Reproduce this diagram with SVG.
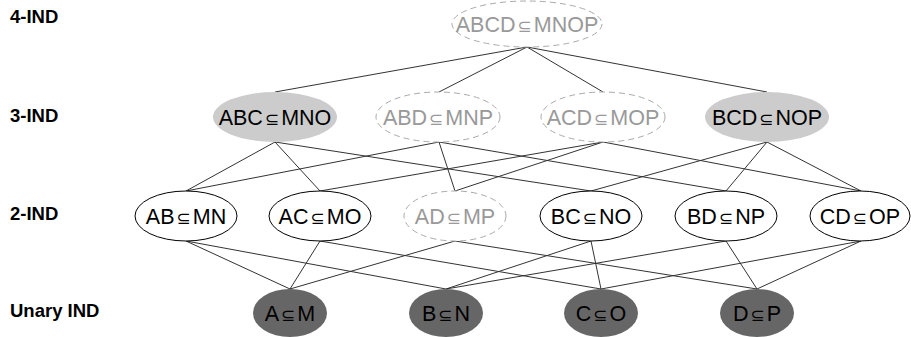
<svg xmlns="http://www.w3.org/2000/svg" width="911" height="337" viewBox="0 0 911 337">
<style>
text{font-family:"Liberation Sans","DejaVu Sans",sans-serif;}
.lvl{font-size:18.5px;font-weight:bold;fill:#000;}
.t{font-size:21.5px;text-anchor:middle;fill:#000;}
.tg{font-size:21.5px;text-anchor:middle;fill:#999;}
.s{font-size:17px;font-family:"DejaVu Sans",sans-serif;}
.dash{fill:#fff;stroke:#aaa;stroke-width:1;stroke-dasharray:6,4;}
.plain{fill:#fff;stroke:#000;stroke-width:1;}
.light{fill:#ccc;stroke:none;}
.dark{fill:#666;stroke:none;}
.e line{stroke:#333;stroke-width:1;}
</style>
<rect width="911" height="337" fill="#fff"/>
<g id="levels">
<text class="lvl" x="10" y="23">4-IND</text>
<text class="lvl" x="10" y="122">3-IND</text>
<text class="lvl" x="10" y="220">2-IND</text>
<text class="lvl" x="10" y="317">Unary IND</text>
</g>
<g id="edges" class="e">
<line x1="527" y1="47" x2="275" y2="92"/>
<line x1="527" y1="47" x2="439" y2="92"/>
<line x1="527" y1="47" x2="603" y2="92"/>
<line x1="527" y1="47" x2="767" y2="92"/>
<line x1="275" y1="142" x2="186" y2="191"/>
<line x1="275" y1="142" x2="320" y2="191"/>
<line x1="275" y1="142" x2="591" y2="191"/>
<line x1="439" y1="142" x2="186" y2="191"/>
<line x1="439" y1="142" x2="455" y2="191"/>
<line x1="439" y1="142" x2="726" y2="191"/>
<line x1="603" y1="142" x2="320" y2="191"/>
<line x1="603" y1="142" x2="455" y2="191"/>
<line x1="603" y1="142" x2="861" y2="191"/>
<line x1="767" y1="142" x2="591" y2="191"/>
<line x1="767" y1="142" x2="726" y2="191"/>
<line x1="767" y1="142" x2="861" y2="191"/>
<line x1="186" y1="241" x2="290" y2="289"/>
<line x1="186" y1="241" x2="446" y2="289"/>
<line x1="320" y1="241" x2="290" y2="289"/>
<line x1="320" y1="241" x2="601" y2="289"/>
<line x1="455" y1="241" x2="290" y2="289"/>
<line x1="455" y1="241" x2="757" y2="289"/>
<line x1="591" y1="241" x2="446" y2="289"/>
<line x1="591" y1="241" x2="601" y2="289"/>
<line x1="726" y1="241" x2="446" y2="289"/>
<line x1="726" y1="241" x2="757" y2="289"/>
<line x1="861" y1="241" x2="601" y2="289"/>
<line x1="861" y1="241" x2="757" y2="289"/>
</g>
<g id="ABCD">
<ellipse class="dash" cx="527" cy="24" rx="75" ry="23"/>
<text class="tg" x="527" y="32">ABCD<tspan class="s" dx="2">⊆</tspan><tspan dx="2">MNOP</tspan></text>
</g>
<g id="ABC">
<ellipse class="light" cx="275" cy="117" rx="62" ry="25"/>
<text class="t" x="275" y="125">ABC<tspan class="s" dx="2">⊆</tspan><tspan dx="2">MNO</tspan></text>
</g>
<g id="ABD">
<ellipse class="dash" cx="438" cy="117" rx="62" ry="25"/>
<text class="tg" x="438" y="125">ABD<tspan class="s" dx="2">⊆</tspan><tspan dx="2">MNP</tspan></text>
</g>
<g id="ACD">
<ellipse class="dash" cx="603" cy="117" rx="62" ry="25"/>
<text class="tg" x="603" y="125">ACD<tspan class="s" dx="2">⊆</tspan><tspan dx="2">MOP</tspan></text>
</g>
<g id="BCD">
<ellipse class="light" cx="767" cy="117" rx="62" ry="25"/>
<text class="t" x="767" y="125">BCD<tspan class="s" dx="2">⊆</tspan><tspan dx="2">NOP</tspan></text>
</g>
<g id="AB">
<ellipse class="plain" cx="186" cy="216" rx="51" ry="25"/>
<text class="t" x="186" y="224">AB<tspan class="s" dx="2">⊆</tspan><tspan dx="2">MN</tspan></text>
</g>
<g id="AC">
<ellipse class="plain" cx="320" cy="216" rx="51" ry="25"/>
<text class="t" x="320" y="224">AC<tspan class="s" dx="2">⊆</tspan><tspan dx="2">MO</tspan></text>
</g>
<g id="AD">
<ellipse class="dash" cx="455" cy="216" rx="51" ry="25"/>
<text class="tg" x="455" y="224">AD<tspan class="s" dx="2">⊆</tspan><tspan dx="2">MP</tspan></text>
</g>
<g id="BC">
<ellipse class="plain" cx="591" cy="216" rx="51" ry="25"/>
<text class="t" x="591" y="224">BC<tspan class="s" dx="2">⊆</tspan><tspan dx="2">NO</tspan></text>
</g>
<g id="BD">
<ellipse class="plain" cx="726" cy="216" rx="51" ry="25"/>
<text class="t" x="726" y="224">BD<tspan class="s" dx="2">⊆</tspan><tspan dx="2">NP</tspan></text>
</g>
<g id="CD">
<ellipse class="plain" cx="860" cy="216" rx="50" ry="25"/>
<text class="t" x="860" y="224">CD<tspan class="s" dx="2">⊆</tspan><tspan dx="2">OP</tspan></text>
</g>
<g id="A">
<ellipse class="dark" cx="290" cy="313" rx="37" ry="24"/>
<text class="t" x="290" y="321">A<tspan class="s" dx="2">⊆</tspan><tspan dx="2">M</tspan></text>
</g>
<g id="B">
<ellipse class="dark" cx="446" cy="313" rx="37" ry="24"/>
<text class="t" x="446" y="321">B<tspan class="s" dx="2">⊆</tspan><tspan dx="2">N</tspan></text>
</g>
<g id="C">
<ellipse class="dark" cx="601" cy="313" rx="37" ry="24"/>
<text class="t" x="601" y="321">C<tspan class="s" dx="2">⊆</tspan><tspan dx="2">O</tspan></text>
</g>
<g id="D">
<ellipse class="dark" cx="757" cy="313" rx="37" ry="24"/>
<text class="t" x="757" y="321">D<tspan class="s" dx="2">⊆</tspan><tspan dx="2">P</tspan></text>
</g>
</svg>
